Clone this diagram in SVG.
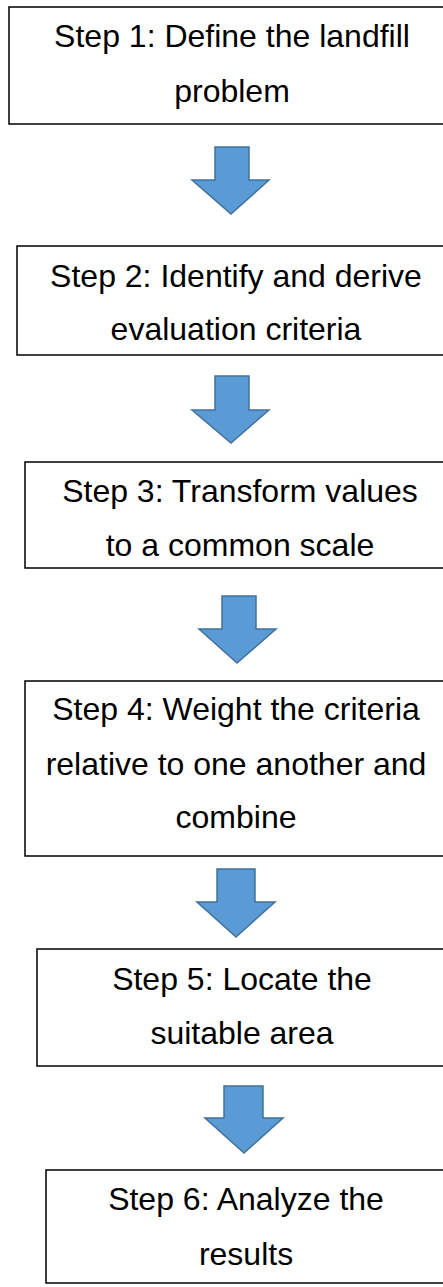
<svg xmlns="http://www.w3.org/2000/svg" width="443" height="1287" viewBox="0 0 443 1287">
<style>
.box{fill:#ffffff;stroke:#000000;stroke-width:1.5}
.t{font-family:"Liberation Sans",Arial,sans-serif;font-size:32px;fill:#000000;text-anchor:middle}
.arr{fill:#5B9BD5;stroke:#41719C;stroke-width:1.5;stroke-linejoin:miter}
</style>
<rect width="443" height="1287" fill="#ffffff"/>
<g id="step1">
<rect class="box" x="9" y="7" width="446" height="117"/>
<text class="t" x="232" y="47">Step 1: Define the landfill</text>
<text class="t" x="232" y="102">problem</text>
</g>
<g id="step2">
<rect class="box" x="17" y="246" width="438" height="109"/>
<text class="t" x="236" y="287">Step 2: Identify and derive</text>
<text class="t" x="236" y="340">evaluation criteria</text>
</g>
<g id="step3">
<rect class="box" x="25" y="462" width="430" height="106"/>
<text class="t" x="240" y="502">Step 3: Transform values</text>
<text class="t" x="240" y="556">to a common scale</text>
</g>
<g id="step4">
<rect class="box" x="25" y="681" width="430" height="175"/>
<text class="t" x="236" y="720">Step 4: Weight the criteria</text>
<text class="t" x="236" y="775">relative to one another and</text>
<text class="t" x="236" y="828">combine</text>
</g>
<g id="step5">
<rect class="box" x="37" y="949" width="418" height="117"/>
<text class="t" x="242" y="990">Step 5: Locate the</text>
<text class="t" x="242" y="1044">suitable area</text>
</g>
<g id="step6">
<rect class="box" x="46" y="1170" width="409" height="113"/>
<text class="t" x="246" y="1210">Step 6: Analyze the</text>
<text class="t" x="246" y="1265">results</text>
</g>
<g id="connectors">
<polygon class="arr" points="215,147 249,147 249,180 269,180 231,214 192,180 215,180"/>
<polygon class="arr" points="215,376 249,376 249,410 269,410 231,443 192,410 215,410"/>
<polygon class="arr" points="222,596 256,596 256,629 276,629 237,663 199,629 222,629"/>
<polygon class="arr" points="217,869 255,869 255,902 275,902 236,937 197,902 217,902"/>
<polygon class="arr" points="224,1086 263,1086 263,1118 283,1118 244,1153 205,1118 224,1118"/>
</g>
</svg>
